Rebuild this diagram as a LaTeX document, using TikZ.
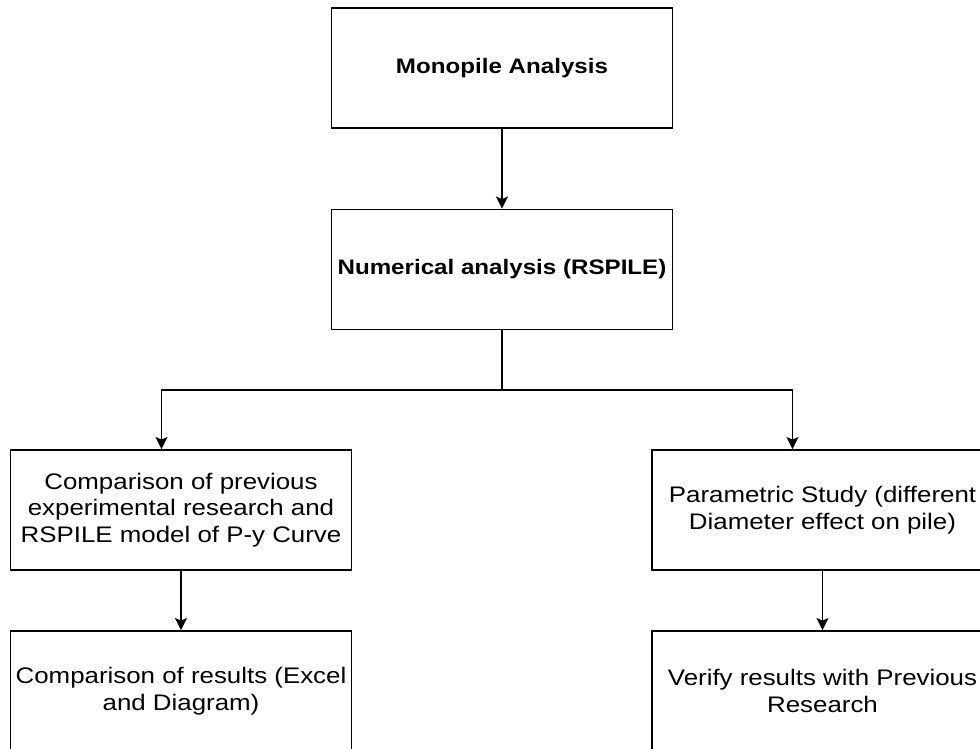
\documentclass[tikz,border=0pt]{standalone}
\usepackage{fontspec}
\setmainfont{Liberation Sans}[FakeStretch=1.15]
\usetikzlibrary{arrows.meta}
\begin{document}
\begin{tikzpicture}[x=1pt, y=-1pt, line width=1.9pt,
  box/.style={draw, minimum width=341pt, minimum height=120pt, align=center, inner sep=2pt, font=\fontsize{22.5}{26.7}\selectfont},
  topbox/.style={box, font=\fontsize{21}{25}\selectfont\bfseries},
  >={Stealth[length=12pt, width=12pt, inset=2.5pt]}]
\useasboundingbox (0,0) rectangle (980,749);
\clip (0,0) rectangle (980,749);
\node[topbox] (B_0_0) at (502,68) {Monopile Analysis};
\node[topbox] (B_1_0) at (502,269.5) {Numerical analysis (RSPILE)};
\draw[->] (B_0_0) -- (B_1_0);
\coordinate (J_1_0) at (502,390);
\draw (B_1_0) -- (J_1_0);
\node[box] (B_2_0) at (181,510) {Comparison of previous\\experimental research and\\RSPILE model of P-y Curve};
\draw[->] (J_1_0) -| ([xshift=-19.5pt]B_2_0.north);
\node[box] (B_2_1) at (822.5,510) {Parametric Study (different\\Diameter effect on pile)};
\draw[->] (J_1_0) -| ([xshift=-30pt]B_2_1.north);
\node[box] (B_3_0) at (181,691) {Comparison of results (Excel\\and Diagram)};
\draw[->] (B_2_0) -- (B_3_0);
\node[box] (B_3_1) at (822.5,691) {Verify results with Previous\\Research};
\draw[->] (B_2_1) -- (B_3_1);
\end{tikzpicture}
\end{document}
